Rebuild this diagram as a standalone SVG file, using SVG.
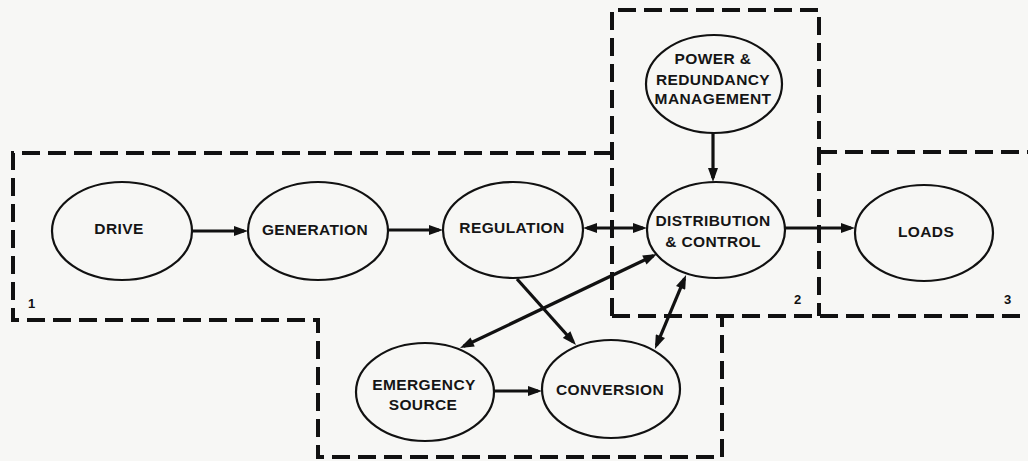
<svg xmlns="http://www.w3.org/2000/svg" width="1028" height="461" viewBox="0 0 1028 461">
<style>
.bg{fill:#f7f7f5}
.node ellipse{fill:none;stroke:#111;stroke-width:2.2}
.node text{font-family:"Liberation Sans",Arial,sans-serif;font-weight:bold;font-size:15.5px;letter-spacing:0.4px;fill:#151515;text-anchor:middle}
.dash{fill:none;stroke:#111;stroke-width:4;stroke-dasharray:18 8}
.conn line{stroke:#111;stroke-width:3.2}
.one{marker-end:url(#ah)}
.two{marker-end:url(#ah);marker-start:url(#ah)}
.lbl{font-family:"Liberation Sans",Arial,sans-serif;font-weight:bold;font-size:13px;fill:#111}
</style>
<defs>
<marker id="ah" viewBox="0 0 14 10" refX="10" refY="5" markerWidth="15" markerHeight="10" markerUnits="userSpaceOnUse" orient="auto-start-reverse">
<path d="M0,0 L14,5 L0,10 z" fill="#111"/>
</marker>
</defs>
<rect class="bg" x="0" y="0" width="1028" height="461"/>
<g id="boundaries">
<path class="dash" d="M612,153 L13,153 L13,320 L318,320 L318,457 L722,457 L722,316"/>
<path class="dash" d="M612,316 L612,10 L819,10 L819,316"/>
<path class="dash" d="M612,316 L1028,316"/>
<path class="dash" d="M819,152 L1028,152"/>
<text class="lbl" x="28" y="308">1</text>
<text class="lbl" x="794" y="304">2</text>
<text class="lbl" x="1004" y="304">3</text>
</g>
<g id="connectors" class="conn">
<line class="one" x1="192" y1="231" x2="244" y2="231"/>
<line class="one" x1="387" y1="230" x2="439" y2="230"/>
<line class="two" x1="587" y1="228" x2="643" y2="228"/>
<line class="one" x1="785" y1="228" x2="851" y2="228"/>
<line class="one" x1="713" y1="133" x2="713" y2="178"/>
<line class="one" x1="517" y1="279" x2="573.3" y2="342"/>
<line class="two" x1="463.6" y1="346.3" x2="653.4" y2="255.7"/>
<line class="two" x1="656.5" y1="345.3" x2="684.5" y2="278.7"/>
<line class="one" x1="494" y1="391" x2="538" y2="391"/>
</g>
<g id="drive" class="node"><ellipse cx="122" cy="231" rx="70" ry="49"/><text x="119" y="234">DRIVE</text></g>
<g id="generation" class="node"><ellipse cx="318" cy="231" rx="70" ry="49"/><text x="315" y="235">GENERATION</text></g>
<g id="regulation" class="node"><ellipse cx="513" cy="230" rx="70" ry="48"/><text x="512" y="233">REGULATION</text></g>
<g id="distribution" class="node"><ellipse cx="716" cy="230" rx="69" ry="48"/><text x="713" y="226">DISTRIBUTION</text><text x="713" y="247">&amp; CONTROL</text></g>
<g id="loads" class="node"><ellipse cx="924" cy="233" rx="69" ry="48"/><text x="926" y="237">LOADS</text></g>
<g id="power" class="node"><ellipse cx="714" cy="84" rx="68" ry="49"/><text x="713" y="64">POWER &amp;</text><text x="713" y="85">REDUNDANCY</text><text x="713" y="104">MANAGEMENT</text></g>
<g id="emergency" class="node"><ellipse cx="425" cy="392" rx="69" ry="49"/><text x="424" y="390">EMERGENCY</text><text x="423" y="410">SOURCE</text></g>
<g id="conversion" class="node"><ellipse cx="611" cy="389" rx="69" ry="49"/><text x="610" y="395">CONVERSION</text></g>
</svg>
